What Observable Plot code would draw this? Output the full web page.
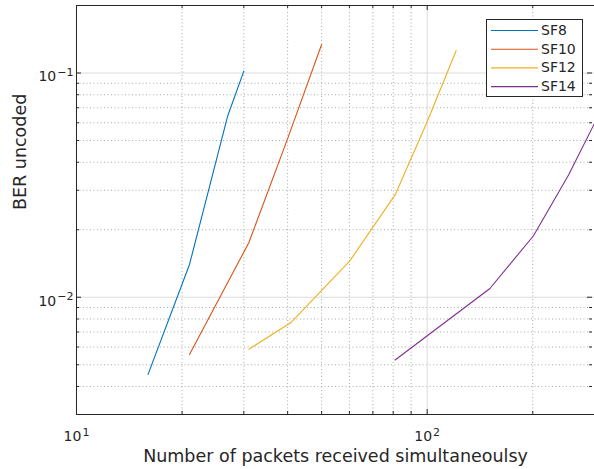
<!DOCTYPE html>
<html>
<head>
<meta charset="utf-8">
<script src="https://cdn.jsdelivr.net/npm/d3@7"></script>
<script src="https://cdn.jsdelivr.net/npm/@observablehq/plot@0.6"></script>
<style>
  body { margin: 0; background: #fff; }
  #chart { position: relative; width: 594px; height: 469px; font-family: "DejaVu Sans", sans-serif; }
  #chart svg { display: block; }
  #legend { position: absolute; left: 486px; top: 19px; }
</style>
</head>
<body>
<div id="chart"></div>
<script>
// Uncoded BER vs. number of simultaneously received packets, per spreading factor
const series = ["SF8", "SF10", "SF12", "SF14"];
const colors = ["#0072BD", "#D95319", "#EDB120", "#7E2F8E"];

const sf8Packets = [16, 21, 27, 30];
const sf8Ber = [0.00453, 0.0140, 0.0645, 0.102];
const sf10Packets = [21, 31, 40, 50];
const sf10Ber = [0.00556, 0.0175, 0.051, 0.134];
const sf12Packets = [31, 41, 60, 81, 100, 121];
const sf12Ber = [0.00586, 0.00774, 0.01445, 0.0286, 0.0606, 0.126];
const sf14Packets = [81, 151, 201, 253, 300];
const sf14Ber = [0.00525, 0.01094, 0.0188, 0.0351, 0.0596];

const xDomain = [10, 300];
const yDomain = [0.003, 0.2];
const xMajor = [10, 100];
const xMinor = [20, 30, 40, 50, 60, 70, 80, 90, 200];
const yMajor = [0.01, 0.1];
const yMinor = [0.004, 0.005, 0.006, 0.007, 0.008, 0.009, 0.02, 0.03, 0.04, 0.05, 0.06, 0.07, 0.08, 0.09];

const xLabel = "Number of packets received simultaneoulsy";
const yLabel = "BER uncoded";

const packets = [sf8Packets, sf10Packets, sf12Packets, sf14Packets];
const bers = [sf8Ber, sf10Ber, sf12Ber, sf14Ber];
const rows = series.flatMap((s, i) => packets[i].map((n, j) => ({series: s, n, ber: bers[i][j]})));

// "10^k" placeholder; the exponent is turned into a superscript after rendering
const pow10 = v => "10^" + Math.round(Math.log10(v));

const W = 594, H = 469, mL = 76, mR = 0, mT = 5, mB = 55;
const pw = W - mL - mR, ph = H - mT - mB;
const ink = "#262626";

const chart = Plot.plot({
  width: W, height: H,
  marginLeft: mL, marginRight: mR, marginTop: mT, marginBottom: mB,
  style: {fontFamily: "DejaVu Sans, sans-serif", fontSize: "14px", color: ink, background: "#fff"},
  x: {type: "log", domain: xDomain},
  y: {type: "log", domain: yDomain},
  color: {domain: series, range: colors},
  marks: [
    // grid
    Plot.gridX(xMinor, {stroke: "#a8a8a8", strokeOpacity: 1, strokeDasharray: "1,2.5"}),
    Plot.gridY(yMinor, {stroke: "#a8a8a8", strokeOpacity: 1, strokeDasharray: "1,2.5"}),
    Plot.gridX(xMajor.slice(1), {stroke: "#dcdcdc", strokeOpacity: 1}),
    Plot.gridY(yMajor, {stroke: "#dcdcdc", strokeOpacity: 1}),
    // data
    Plot.line(rows, {x: "n", y: "ber", z: "series", stroke: "series", strokeWidth: 1.1}),
    // box
    Plot.ruleX([xDomain[0]], {stroke: ink}),
    Plot.ruleY([yDomain[0]], {stroke: ink}),
    Plot.ruleY([yDomain[1]], {stroke: ink}),
    // inward ticks
    Plot.ruleY(yMajor, {stroke: ink, insetRight: pw - 5}),
    Plot.ruleY(yMinor, {stroke: ink, insetRight: pw - 3}),
    Plot.ruleY(yMajor, {stroke: ink, insetLeft: pw - 7, insetRight: 2}),
    Plot.ruleY(yMinor, {stroke: ink, insetLeft: pw - 5, insetRight: 2}),
    Plot.ruleX(xMajor, {stroke: ink, insetTop: ph - 5}),
    Plot.ruleX(xMinor, {stroke: ink, insetTop: ph - 3}),
    Plot.ruleX(xMajor, {stroke: ink, insetBottom: ph - 5}),
    Plot.ruleX(xMinor, {stroke: ink, insetBottom: ph - 3}),
    // tick labels
    Plot.axisX(xMajor, {tickSize: 0, tickPadding: 17, tickFormat: pow10, fontSize: 14, fill: ink, label: null}),
    Plot.axisY(yMajor, {tickSize: 0, tickPadding: 3, dy: 4, tickFormat: pow10, fontSize: 14, fill: ink, label: null}),
    // axis titles
    Plot.text([xLabel], {frameAnchor: "bottom", dy: 47, fontSize: 17.5, fill: ink}),
    Plot.text([yLabel], {frameAnchor: "left", dx: -56, rotate: -90, fontSize: 17.5, fill: ink})
  ]
});

// superscript exponents on the decade labels
d3.select(chart)
  .selectAll('g[aria-label="x-axis tick label"] text, g[aria-label="y-axis tick label"] text')
  .each(function () {
    const t = d3.select(this);
    const [base, exp] = t.text().split("^");
    if (exp === undefined) return;
    t.text(base);
    t.append("tspan").attr("dx", 1).attr("dy", "-0.5em").attr("font-size", 11)
      .text(exp.replace("-", "\u2212"));
  });

document.getElementById("chart").appendChild(chart);

// legend box
const lw = 96, lh = 77, rowH = 18.7;
const leg = d3.create("svg").attr("id", "legend").attr("width", lw + 1).attr("height", lh + 1);
leg.append("rect").attr("x", 0.5).attr("y", 0.5).attr("width", lw).attr("height", lh)
  .attr("fill", "#fff").attr("stroke", ink);
const item = leg.selectAll("g").data(series).join("g")
  .attr("transform", (d, i) => `translate(0,${11 + i * rowH})`);
item.append("line").attr("x1", 5).attr("x2", 52).attr("y1", 0.5).attr("y2", 0.5)
  .attr("stroke", (d, i) => colors[i]).attr("stroke-width", 1.1);
item.append("text").attr("x", 55).attr("y", 0).attr("dy", "0.36em")
  .attr("font-family", "DejaVu Sans, sans-serif").attr("font-size", 14).attr("fill", ink)
  .text(d => d);
document.getElementById("chart").appendChild(leg.node());
</script>
</body>
</html>
